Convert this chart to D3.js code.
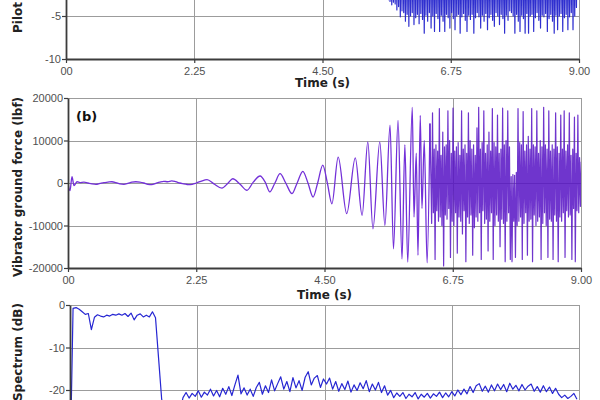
<!DOCTYPE html>
<html><head><meta charset="utf-8">
<script src="https://cdn.jsdelivr.net/npm/d3@7"></script>
<style>html,body{margin:0;padding:0;background:#fff;} svg{display:block}</style>
</head><body>
<svg id="chart" width="600" height="400"></svg>
<script>
// ---------- data ----------
const timeTicks = [0, 2.25, 4.5, 6.75, 9];
const timeTickLabels = ["00", "2.25", "4.50", "6.75", "9.00"];
const pilotTicks = [-10, -5, 0, 5, 10];
const pilotTickLabels = ["-10", "-5", "0", "5", "10"];
const forceTicks = [-20000, -10000, 0, 10000, 20000];
const forceTickLabels = ["-20000", "-10000", "0", "10000", "20000"];
const specTicks = [-40, -30, -20, -10, 0];
const specTickLabels = ["-40", "-30", "-20", "-10", "0"];
const freqTicks = [0, 125, 250, 375, 500];

// (a) pilot signal, visible tail, sampled every 0.015 s from 5.55 s
const pilotStart = 5.55, pilotStep = 0.015;
const pilotValues = [
  2.5,-2.6,2.8,-2.9,3.0,-3.0,3.2,-3.1,  3.4,-3.3,3.6,-3.7,3.8,-3.4,4.0,-3.6,
  4.2,-4.3,4.4,-3.9,4.6,-5.1,4.8,-4.4,  5.0,-4.6,5.3,-5.6,5.5,-4.8,5.8,-6.2,
  6.0,-5.0,6.0,-4.6,6.2,-6.0,6.0,-5.2,  6.2,-4.8,6.1,-5.9,6.3,-4.7,6.0,-5.4,
  6.4,-7.0,6.2,-4.9,6.3,-5.6,6.5,-4.6,  6.2,-6.4,6.3,-5.0,6.6,-6.8,6.1,-4.7,
  6.5,-5.3,6.2,-6.8,6.4,-4.9,6.3,-5.6,  6.6,-6.8,6.2,-4.8,6.4,-5.2,6.5,-6.4,
  6.1,-4.6,6.6,-5.3,6.3,-6.6,6.4,-5.0,  6.2,-4.8,6.5,-7.0,6.3,-5.1,6.6,-4.7,
  6.2,-5.5,6.4,-6.8,6.1,-4.9,6.5,-5.4,  6.3,-4.8,6.6,-7.0,6.2,-5.2,6.4,-4.6,
  6.5,-5.1,6.2,-6.4,6.4,-4.9,6.1,-5.6,  6.6,-4.7,6.3,-6.6,6.5,-5.2,6.2,-4.8,
  6.4,-5.5,6.1,-6.2,6.6,-4.6,6.3,-5.0,  6.5,-6.0,6.2,-4.8,6.4,-5.3,6.1,-7.0,
  6.6,-4.9,6.3,-5.5,6.2,-4.4,6.5,-4.6,  6.2,-5.0,6.4,-7.0,6.3,-4.8,6.6,-5.6,
  6.1,-6.8,6.5,-4.9,6.2,-5.3,6.4,-7.0,  6.3,-4.7,6.6,-7.0,6.2,-5.0,6.5,-4.8,
  6.4,-6.8,6.1,-5.2,6.3,-4.6,6.6,-5.5,  6.2,-6.4,6.5,-4.9,6.3,-5.1,6.4,-4.7,
  6.6,-6.8,6.2,-5.3,6.4,-4.8,6.1,-5.6,  6.5,-7.0,6.3,-4.9,6.2,-6.6,6.6,-5.0,
  6.4,-4.7,6.1,-6.8,6.5,-5.2,6.3,-4.8,  6.2,-6.6,6.4,-5.1,6.6,-4.6,6.2,-6.6,
  6.0,-5.0,5.0,-4.0,4.0];

// (b) vibrator ground force: quiet start and sweep (time s, force lbf)
const forceSweep = [[0,0],[0.035,-1800],[0.07,1500],[0.105,-600],[0.16,300],[0.21,100],[0.28,200],[0.35,0],
  [0.42,-200],[0.49,-300],[0.56,-100],[0.63,100],[0.70,200],[0.77,300],[0.84,100],[0.91,-200],[0.98,-300],
  [1.05,-100],[1.12,200],[1.19,300],[1.26,200],[1.33,0],[1.40,-300],[1.47,-400],[1.54,-100],[1.61,200],
  [1.68,400],[1.75,300],[1.82,500],[1.89,300],[1.96,0],[2.04,-200],[2.11,-400],[2.18,-300],[2.25,0],
  [2.33,400],[2.44,800],[2.56,-200],[2.70,-1200],[2.81,0],[2.89,1000],[3.02,-300],[3.14,-1700],[3.25,200],
  [3.37,1650],[3.46,200],[3.54,-2100],[3.63,0],[3.72,2200],[3.82,0],[3.93,-2500],[4.02,0],[4.12,2750],
  [4.21,0],[4.30,-3300],[4.38,0],[4.47,4200],[4.55,0],[4.63,-4900],[4.74,6100],[4.89,-7200],[5.04,5900],
  [5.16,-7600],[5.26,9700],[5.35,-10800],[5.47,9700],[5.56,-10000],[5.65,13600],[5.71,-15500],[5.79,14700],
  [5.86,-17900],[5.91,9000],[5.96,-18600],[6.04,17800],[6.07,-8000],[6.11,7000],[6.14,-17000],[6.18,15900],
  [6.21,-6000],[6.25,10000],[6.30,-18800],[6.35,14000]];
// (b) dense part, sampled every 0.015 s from 6.38 s
const forceDenseStart = 6.38, forceDenseStep = 0.015;
const forceDenseValues = [
  -9500,16500,-7000,8000,-18000,9000,-6500,7500,    -9000,17500,-8000,6500,-10000,12000,-19500,8500,
  -7500,9000,-8500,17000,-6000,10000,-17500,7000,   -9000,17600,-10000,7500,-7000,8500,-16500,9500,
  -8000,6500,-9000,17000,-12000,8000,-6500,9000,    -18500,7000,-8000,16500,-9500,10000,-7500,8000,
  -17000,9000,-10500,6500,-8000,13000,-9000,17800,  -7000,8000,-18000,9500,-6500,17000,-9500,7000,
  -8500,9000,-16000,12000,-9000,7500,-7000,17500,   -18000,9500,-10000,8500,-7500,16000,-9000,7000,
  -15000,8000,-8500,17600,-9500,9000,-18500,10000,  -9000,17000,-7000,8500,-18000,1500,-18500,2000,
  -9000,1800,-17500,2500,-10000,17500,-9000,9500,   -8000,9000,-18000,16800,-9500,7500,-7000,9000,
  -17000,11000,-9000,8000,-8500,17500,-18500,9000,  -7500,8500,-10000,17000,-9000,7000,-8000,10000,
  -18000,8500,-9500,17800,-7000,9000,-10000,8000,   -17500,17000,-8500,7500,-9000,9000,-18000,8000,
  -7500,16500,-9000,8500,-18500,7000,-8000,16000,   -9000,8000,-7000,17000,-17500,7500,-6500,9000,
  -8000,16500,-7500,6500,-18000,8000,-6000,15500,   -18500,7000,-6500,16000,-7000,6000,-5500,5000];

// (c) spectrum (dB), sampled every 3 units from 0
const specStart = 0, specStep = 3;
const specValues = [-40,-0.8,-0.6,-1.0,-1.6,-2.2,-2.0,-5.8,-2.9,-2.3,-2.6,-2.8,-2.4,-2.6,-2.2,-2.4,-2.1,-2.4,-2.0,-2.7,
  -1.9,-3.5,-2.4,-2.1,-2.8,-2.4,-2.8,-1.6,-3.0,-12.5,-22.0,-27,-29,-28,-30,-27,-25,-21.8,
  -20.6,-21.9,-20.8,-21.5,-20.2,-21.7,-20.5,-21.2,-19.8,-21.4,-20.1,-21.6,-19.6,-21.0,-19.2,-21.3,-18.8,-16.5,
  -20.9,-19.5,-21.2,-19.8,-21.5,-19.4,-18.2,-21.0,-19.0,-20.6,-17.6,-20.2,-18.5,-16.9,-19.8,-18.0,-20.4,-17.1,
  -19.5,-17.8,-20.1,-17.0,-15.7,-18.8,-17.2,-16.6,-19.4,-17.4,-18.6,-17.2,-19.8,-18.0,-20.3,-18.5,-19.9,-17.9,
  -20.5,-18.8,-20.1,-18.3,-19.7,-17.8,-20.4,-18.6,-20.0,-18.2,-20.6,-19.0,-21.2,-20.1,-21.8,-20.7,-21.5,-20.6,
  -22.0,-21.0,-21.6,-20.6,-22.1,-21.0,-21.7,-20.8,-21.9,-20.9,-21.5,-20.5,-21.8,-20.7,-21.6,-20.4,-21.4,-20.0,
  -21.1,-19.8,-20.9,-19.2,-20.6,-19.0,-18.5,-20.3,-19.1,-20.5,-18.8,-20.2,-18.6,-19.9,-18.7,-20.4,-18.4,-19.8,
  -18.9,-20.2,-18.7,-20.0,-19.1,-18.6,-20.3,-19.2,-20.5,-19.0,-20.4,-19.3,-20.8,-19.6,-21.0,-21.8,-21.2,-22.0,
  -21.5,-20.8,-22.2];

// ---------- drawing ----------
const W = 600, H = 400;
const svg = d3.select("#chart");
const defs = svg.append("defs");
const tickFont = "'Liberation Sans', Arial, sans-serif";
const titleFont = "'DejaVu Sans', Verdana, sans-serif";

function drawPanel(cfg) {
  const g = svg.append("g");
  const x = d3.scaleLinear().domain(cfg.xDomain).range([cfg.left, cfg.right]);
  const y = d3.scaleLinear().domain(cfg.yDomain).range([cfg.bottom, cfg.top]);
  const clipId = "clip-" + cfg.id;
  defs.append("clipPath").attr("id", clipId).append("rect")
    .attr("x", cfg.left).attr("y", cfg.top)
    .attr("width", cfg.right - cfg.left).attr("height", cfg.bottom - cfg.top);

  const grid = g.append("g").attr("stroke", "#9c9c9c").attr("stroke-width", 1);
  grid.selectAll("line.v").data(cfg.xTicks.slice(1)).join("line").attr("class", "v")
    .attr("x1", d => Math.round(x(d)) + 0.5).attr("x2", d => Math.round(x(d)) + 0.5)
    .attr("y1", cfg.top).attr("y2", cfg.bottom);
  grid.selectAll("line.h").data(cfg.yTicks.slice(1)).join("line").attr("class", "h")
    .attr("y1", d => Math.round(y(d)) + 0.5).attr("y2", d => Math.round(y(d)) + 0.5)
    .attr("x1", cfg.left).attr("x2", cfg.right);

  cfg.series.forEach(s => {
    g.append("path").datum(s.data)
      .attr("clip-path", `url(#${clipId})`)
      .attr("fill", "none").attr("stroke", s.color).attr("stroke-width", s.width)
      .attr("stroke-opacity", s.opacity || 1).attr("stroke-linejoin", "round")
      .attr("d", d3.line().x(d => x(d[0])).y(d => y(d[1])).curve(s.curve || d3.curveLinear));
  });

  // only labels that fall inside the 600x400 view are written
  const inView = v => v >= 0 && v <= H - 6;
  const xAxis = d3.axisBottom(x).tickValues(cfg.xTicks)
    .tickFormat((d, i) => (cfg.xLabels && inView(cfg.bottom + 12)) ? cfg.xLabels[i] : "")
    .tickSize(4).tickPadding(4).tickSizeOuter(0);
  const yAxis = d3.axisLeft(y).tickValues(cfg.yTicks)
    .tickFormat((d, i) => inView(y(d)) ? cfg.yLabels[i] : "")
    .tickSize(4).tickPadding(1).tickSizeOuter(0);
  const ax = g.append("g").attr("transform", `translate(0,${cfg.bottom})`).call(xAxis);
  const ay = g.append("g").attr("transform", `translate(${cfg.left},0)`).call(yAxis);
  [ax, ay].forEach(a => {
    a.select(".domain").attr("stroke", "#3c3c3c").attr("stroke-width", 1.8);
    a.selectAll(".tick line").attr("stroke", "#3c3c3c").attr("stroke-width", 1.2);
    a.selectAll(".tick text").attr("fill", "#505050")
      .style("font-family", tickFont).style("font-size", "11px");
    a.selectAll(".tick text").filter(function () { return this.textContent === ""; }).remove();
  });

  if (cfg.xTitle) {
    g.append("text").attr("x", x(4.5)).attr("y", cfg.xTitleY).attr("text-anchor", "middle")
      .style("font-family", titleFont).style("font-weight", "bold").style("font-size", "12px")
      .attr("fill", "#222").text(cfg.xTitle);
  }
  g.append("text")
    .attr("transform", `translate(22,${cfg.yTitlePos}) rotate(-90)`)
    .attr("text-anchor", cfg.yTitleAnchor)
    .style("font-family", titleFont).style("font-weight", "bold").style("font-size", "12px")
    .attr("fill", "#222").text(cfg.yTitle);
  if (cfg.tag) {
    g.append("text").attr("x", cfg.left + 8).attr("y", 121)
      .style("font-family", titleFont).style("font-weight", "bold").style("font-size", "13px")
      .attr("fill", "#111").text(cfg.tag);
  }
}

const pilotData = pilotValues.map((v, i) => [pilotStart + i * pilotStep, v]);
const forceDenseData = [forceSweep[forceSweep.length - 1]]
  .concat(forceDenseValues.map((v, i) => [forceDenseStart + i * forceDenseStep, v]));
const specData = specValues.map((v, i) => [specStart + i * specStep, v]);

drawPanel({
  id: "a", left: 66, right: 579, top: -113, bottom: 59,
  xDomain: [0, 9], yDomain: [-10, 10],
  xTicks: timeTicks, xLabels: timeTickLabels, yTicks: pilotTicks, yLabels: pilotTickLabels,
  xTitle: "Time (s)", xTitleY: 87, yTitle: "Pilot", yTitlePos: 33, yTitleAnchor: "start",
  series: [{ data: pilotData, color: "#2424cc", width: 1.2, opacity: 0.95 }]
});

drawPanel({
  id: "b", left: 68, right: 581, top: 98, bottom: 268,
  xDomain: [0, 9], yDomain: [-20000, 20000],
  xTicks: timeTicks, xLabels: timeTickLabels, yTicks: forceTicks, yLabels: forceTickLabels,
  xTitle: "Time (s)", xTitleY: 299, yTitle: "Vibrator ground force (lbf)", yTitlePos: 187, yTitleAnchor: "middle",
  tag: "(b)",
  series: [
    { data: forceSweep, color: "#7330d8", width: 1.3, curve: d3.curveMonotoneX },
    { data: forceDenseData, color: "#5612c4", width: 1.2, opacity: 0.85 }
  ]
});

drawPanel({
  id: "c", left: 70, right: 579, top: 305, bottom: 475,
  xDomain: [0, 500], yDomain: [-40, 0],
  xTicks: freqTicks, xLabels: null, yTicks: specTicks, yLabels: specTickLabels,
  yTitle: "Spectrum (dB)", yTitlePos: 303, yTitleAnchor: "end",
  series: [{ data: specData, color: "#2626d2", width: 1.2 }]
});
</script>
</body></html>
